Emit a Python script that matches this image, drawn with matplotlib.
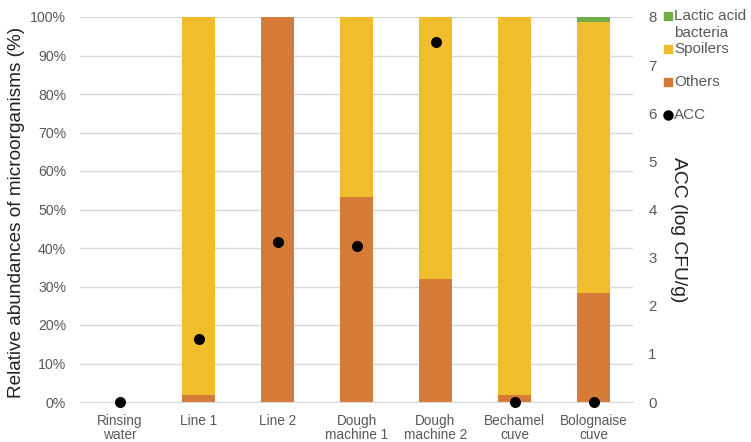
import numpy as np
import matplotlib.pyplot as plt
from matplotlib.lines import Line2D
from matplotlib.ticker import PercentFormatter

plt.rcParams['font.family'] = ['Liberation Sans', 'DejaVu Sans']

categories = ['Rinsing\nwater', 'Line 1', 'Line 2', 'Dough\nmachine 1', 'Dough\nmachine 2',
              'Bechamel\ncuve', 'Bolognaise\ncuve']
others = [0, 1.8, 100, 53.3, 32.0, 1.8, 28.3]
spoilers = [0, 98.2, 0, 46.7, 68.0, 98.2, 70.5]
lab = [0, 0, 0, 0, 0, 0, 1.2]
acc = [0, 1.3, 3.32, 3.24, 7.48, 0, 0]

c_others = '#D67B37'
c_spoil = '#F0BE2C'
c_lab = '#72AD4A'
grey = '#595959'

W, H = 751, 442
fig = plt.figure(figsize=(W / 100, H / 100), dpi=100)
ax = fig.add_axes([80 / W, 40 / H, 553 / W, 385 / H])
x = np.arange(len(categories))
w = 0.43
ax.bar(x, others, w, color=c_others, zorder=2)
ax.bar(x, spoilers, w, bottom=others, color=c_spoil, zorder=2)
ax.bar(x, lab, w, bottom=np.array(others) + np.array(spoilers), color=c_lab, zorder=2)
ax.set_ylim(0, 100)
ax.set_xlim(-0.5, len(categories) - 0.5)
ax.yaxis.set_major_formatter(PercentFormatter(decimals=0))
ax.set_yticks(np.arange(0, 101, 10))
ax.grid(axis='y', color='#D9D9D9', lw=1, zorder=0)
for s in ['top', 'right', 'left']:
    ax.spines[s].set_visible(False)
ax.spines['bottom'].set_color('#D9D9D9')
ax.set_xticks(x)
ax.set_xticklabels(categories, fontsize=9.8, color=grey, linespacing=1.05)
ax.tick_params(axis='y', length=0, colors=grey, labelsize=10.2, pad=10)
ax.tick_params(axis='x', length=0, colors=grey, pad=8.5)
ax.set_ylabel('Relative abundances of microorganisms (%)', fontsize=13.7, color='#222222',
              va='center')
ax.yaxis.set_label_coords(-63 / 553, (402 - 212) / 385)

ax2 = ax.twinx()
ax2.scatter(x, acc, s=48, color='black', zorder=3, clip_on=False)
ax2.set_ylim(0, 8)
ax2.set_yticks(range(0, 9))
for s in ax2.spines.values():
    s.set_visible(False)
ax2.tick_params(axis='y', length=0, colors=grey, labelsize=10.8, pad=11)
ax2.set_ylabel('ACC (log CFU/g)', fontsize=13.9, color='#222222', rotation=270,
               va='center', ha='center')
ax2.yaxis.set_label_coords((678 - 80) / 553, (402 - 230) / 385)

# legend, placed like the Excel one
leg = [('Lactic acid', c_lab, 's', 16),
       ('Spoilers', c_spoil, 's', 49),
       ('Others', c_others, 's', 82),
       ('ACC', 'black', 'o', 115)]
for label, col, mk, yy in leg:
    fig.add_artist(Line2D([668 / W], [1 - yy / H], marker=mk, color=col, ls='none',
                          markersize=6 if mk == 's' else 6.5, transform=fig.transFigure))
    fig.text(674 / W, 1 - yy / H, label, fontsize=11, color=grey, va='center')
fig.text(674 / W, 1 - 33 / H, 'bacteria', fontsize=11, color=grey, va='center')

fig.savefig('out.png', dpi=100)
